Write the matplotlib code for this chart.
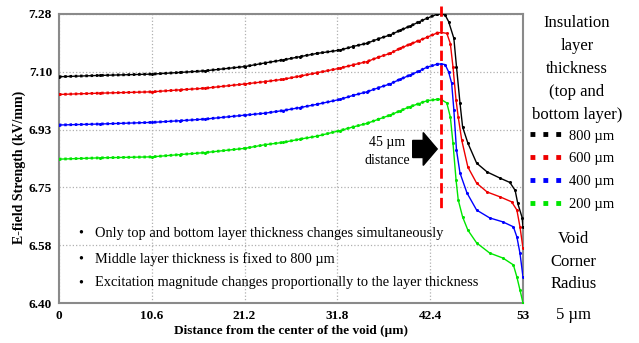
import matplotlib
matplotlib.use("Agg")
import matplotlib.pyplot as plt
from matplotlib.lines import Line2D

plt.rcParams["font.family"] = ["Liberation Serif", "DejaVu Serif"]

# Distance from the centre of the void (um) - rising part shared by all curves
x_rise = [0, 4.68, 10.62, 13.82, 16.68, 21.25, 23.53, 25.59, 27.53, 29.47, 32.10,
          33.58, 35.18, 36.44, 37.81, 38.95, 40.09, 41.12, 42.03, 43.17, 43.63]

e800_rise = [7.089, 7.093, 7.097, 7.102, 7.107, 7.120, 7.131, 7.140, 7.150, 7.160,
             7.170, 7.181, 7.191, 7.204, 7.216, 7.230, 7.243, 7.256, 7.267, 7.279, 7.280]
e600_rise = [7.035, 7.039, 7.043, 7.049, 7.054, 7.067, 7.074, 7.081, 7.091, 7.101,
             7.115, 7.125, 7.135, 7.148, 7.160, 7.175, 7.188, 7.199, 7.209, 7.222, 7.224]
e400_rise = [6.942, 6.945, 6.950, 6.955, 6.960, 6.972, 6.978, 6.986, 6.995, 7.005,
             7.020, 7.032, 7.043, 7.055, 7.067, 7.081, 7.094, 7.106, 7.118, 7.127, 7.128]
e200_rise = [6.838, 6.842, 6.845, 6.852, 6.858, 6.871, 6.882, 6.889, 6.899, 6.908,
             6.925, 6.936, 6.947, 6.959, 6.972, 6.985, 6.998, 7.007, 7.016, 7.020, 7.020]

# drop towards the void edge
x800_drop = [44.1, 44.5, 45.1, 45.4, 45.8, 46.1, 46.7, 47.7, 48.9, 50.4, 51.5, 52.1, 52.4, 52.9, 53.0]
e800_drop = [7.277, 7.257, 7.206, 7.120, 7.009, 6.936, 6.887, 6.826, 6.799, 6.780, 6.767, 6.743, 6.703, 6.660, 6.630]
x600_drop = [44.3, 44.7, 45.0, 45.35, 45.6, 46.0, 46.7, 47.7, 48.9, 50.4, 51.7, 52.3, 52.65, 53.0]
e600_drop = [7.221, 7.190, 7.119, 7.018, 6.966, 6.896, 6.814, 6.765, 6.738, 6.723, 6.708, 6.683, 6.632, 6.567]
x400_drop = [44.1, 44.5, 44.85, 45.1, 45.4, 45.8, 46.6, 47.7, 49.2, 50.7, 51.9, 52.3, 52.65, 53.0]
e400_drop = [7.126, 7.104, 7.069, 6.988, 6.866, 6.796, 6.735, 6.683, 6.659, 6.647, 6.632, 6.601, 6.552, 6.479]
x200_drop = [44.3, 44.7, 45.0, 45.35, 45.6, 46.1, 46.7, 47.7, 49.2, 50.7, 51.9, 52.3, 52.65, 53.0]
e200_drop = [7.009, 6.966, 6.887, 6.775, 6.714, 6.662, 6.622, 6.583, 6.552, 6.537, 6.516, 6.479, 6.440, 6.400]

labels = ["800 \u00b5m", "600 \u00b5m", "400 \u00b5m", "200 \u00b5m"]
colors = ["black", "#ee0000", "#0000ff", "#00e600"]

x_ticks = [0, 10.6, 21.2, 31.8, 42.4, 53]
x_ticklabels = ["0", "10.6", "21.2", "31.8", "42.4", "53"]
y_ticks = [6.40, 6.576, 6.752, 6.928, 7.104, 7.28]
y_ticklabels = ["6.40", "6.58", "6.75", "6.93", "7.10", "7.28"]

notes = ["Only top and bottom layer thickness changes simultaneously",
         "Middle layer thickness is fixed to 800 \u00b5m",
         "Excitation magnitude changes proportionally to the layer thickness"]
note_y = [6.613, 6.534, 6.461]

fig = plt.figure(figsize=(6.39, 3.43), dpi=100)
ax = fig.add_axes([0.0923, 0.1166, 0.7262, 0.8426])

series = [(x800_drop, e800_rise, e800_drop), (x600_drop, e600_rise, e600_drop),
          (x400_drop, e400_rise, e400_drop), (x200_drop, e200_rise, e200_drop)]
for (xd, er, ed), c in zip(series, colors):
    ax.plot(x_rise + xd, er + ed, color=c, lw=1.0, marker="o", ms=2.2,
            mew=0, zorder=3)
    # dense dotted look on the slowly rising section
    ax.plot(x_rise, er, color=c, lw=2.0, ls=(0, (0.9, 1.0)), zorder=3)

ax.set_xlim(0, 53)
ax.set_ylim(6.40, 7.28)
ax.set_xticks(x_ticks)
ax.set_xticklabels(x_ticklabels, fontweight="bold", fontsize=9.5)
ax.set_yticks(y_ticks)
ax.set_yticklabels(y_ticklabels, fontweight="bold", fontsize=9.5)
ax.tick_params(length=0, pad=5)
ax.grid(True, color="#b0b0b0", linestyle=":", lw=0.9)
for s in ax.spines.values():
    s.set_color("#8a8a8a")
    s.set_linewidth(1.5)

ax.set_xlabel("Distance from the center of the void (\u00b5m)", fontweight="bold",
              fontsize=9.5, labelpad=2)
ax.set_ylabel("E-field Strength (kV/mm)", fontweight="bold", fontsize=10)
ax.yaxis.set_label_coords(-0.07, 0.47)

# 45 um marker line and arrow
ax.plot([43.6, 43.6], [7.304, 6.683], color="red", ls="--", lw=2, clip_on=False,
        zorder=4)
ax.arrow(40.4, 6.869, 2.8, 0, width=0.052, head_width=0.100, head_length=1.6,
         length_includes_head=True, color="black", zorder=4)
ax.text(37.5, 6.890, "45 \u00b5m", ha="center", va="center", fontsize=10)
ax.text(37.5, 6.835, "distance", ha="center", va="center", fontsize=10)

for yv, note in zip(note_y, notes):
    ax.text(2.5, yv, "\u2022", ha="center", va="center", fontsize=10.4)
    ax.text(4.1, yv, note, ha="left", va="center", fontsize=10.4)

# right-hand legend block
fig.text(0.903, 0.955, "Insulation\nlayer\nthickness\n(top and\nbottom layer)",
         ha="center", va="top", fontsize=12, linespacing=1.58)
handles = [Line2D([], [], color=c, ls=":", lw=3.5, dash_capstyle="butt")
           for c in colors]
fig.legend(handles, labels, loc="upper left", bbox_to_anchor=(0.82, 0.64),
           frameon=False, fontsize=10.5, handlelength=2.4, handletextpad=0.3,
           labelspacing=0.66, borderaxespad=0)
fig.text(0.897, 0.237, "Void\nCorner\nRadius", ha="center", va="center",
         fontsize=12, linespacing=1.52)
fig.text(0.897, 0.082, "5 \u00b5m", ha="center", va="center", fontsize=12)

fig.savefig("out.png", dpi=100)
